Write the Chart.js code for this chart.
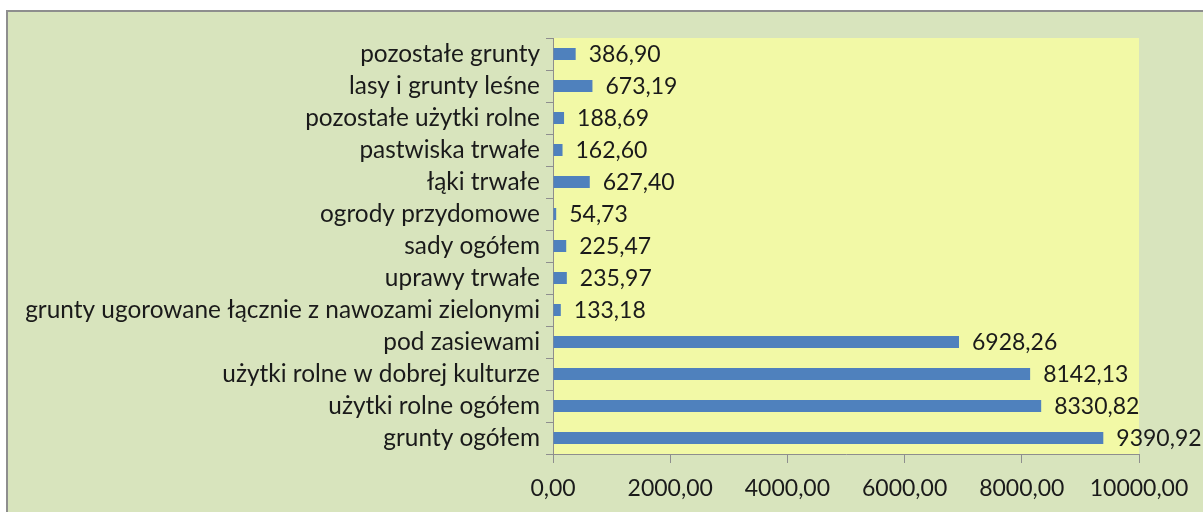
<!DOCTYPE html>
<html>
<head>
<meta charset="utf-8">
<script src="https://cdn.jsdelivr.net/npm/chart.js@4/dist/chart.umd.min.js"></script>
<style>
  html, body { margin: 0; padding: 0; background: #ffffff; width: 1203px; height: 512px; overflow: hidden; }
  #box { position: absolute; left: 6px; top: 10px; width: 1200px; height: 510px; background: #d8e4bd; border: 2px solid #8e8e8e; }
  #c { position: absolute; left: 0; top: 0; }
</style>
</head>
<body>
<div id="box"></div>
<canvas id="c" width="1203" height="512"></canvas>
<script>
const categories = [
  "pozostałe grunty",
  "lasy i grunty leśne",
  "pozostałe użytki rolne",
  "pastwiska trwałe",
  "łąki trwałe",
  "ogrody przydomowe",
  "sady ogółem",
  "uprawy trwałe",
  "grunty ugorowane łącznie z nawozami zielonymi",
  "pod zasiewami",
  "użytki rolne w dobrej kulturze",
  "użytki rolne ogółem",
  "grunty ogółem"
];
const values = [386.90, 673.19, 188.69, 162.60, 627.40, 54.73, 225.47, 235.97, 133.18, 6928.26, 8142.13, 8330.82, 9390.92];
const xTicks = [0, 2000, 4000, 6000, 8000, 10000];

const FONT = "Lato";
const LSIZE = 24.4;
const NSIZE = 23;
const fmt = v => v.toFixed(2).replace('.', ',');

const plotBg = {
  id: 'plotBg',
  beforeDraw(chart) {
    const a = chart.chartArea, ctx = chart.ctx;
    ctx.save();
    ctx.fillStyle = '#f2f9a6';
    ctx.fillRect(a.left, a.top, a.right - a.left, a.bottom - a.top);
    ctx.restore();
  }
};
const valueLabels = {
  id: 'valueLabels',
  afterDatasetsDraw(chart) {
    const ctx = chart.ctx;
    const meta = chart.getDatasetMeta(0);
    ctx.save();
    ctx.font = NSIZE + 'px ' + FONT;
    ctx.fillStyle = '#1a1a1a';
    ctx.textAlign = 'left';
    ctx.textBaseline = 'middle';
    meta.data.forEach((bar, i) => {
      ctx.fillText(fmt(values[i]), bar.x + 13, bar.y + 1);
    });
    ctx.restore();
  }
};

new Chart(document.getElementById('c'), {
  type: 'bar',
  data: {
    labels: categories,
    datasets: [{
      data: values,
      backgroundColor: '#4f81bd',
      borderWidth: 0,
      barPercentage: 0.375,
      categoryPercentage: 1.0
    }]
  },
  options: {
    indexAxis: 'y',
    responsive: false,
    animation: false,
    devicePixelRatio: 1,
    layout: { padding: { top: 38, right: 64, left: 0, bottom: 0 } },
    plugins: { legend: { display: false }, tooltip: { enabled: false }, title: { display: false } },
    scales: {
      y: {
        type: 'category',
        afterFit(s) { s.width = 553; },
        grid: { display: true, drawOnChartArea: false, drawTicks: true, tickLength: 7, color: '#8e8e8e', offset: true },
        border: { display: true, color: '#8e8e8e', width: 1 },
        ticks: { color: '#1a1a1a', font: { family: FONT, size: LSIZE }, padding: 6, autoSkip: false }
      },
      x: {
        type: 'linear',
        min: 0, max: 10000,
        afterFit(s) { s.height = 58; },
        afterBuildTicks(s) { s.ticks = xTicks.map(v => ({ value: v })); },
        grid: { display: true, drawOnChartArea: false, drawTicks: true, tickLength: 9, color: '#8e8e8e' },
        border: { display: true, color: '#8e8e8e', width: 1 },
        ticks: { color: '#1a1a1a', font: { family: FONT, size: NSIZE }, padding: 12, maxRotation: 0, callback: v => fmt(v) }
      }
    }
  },
  plugins: [plotBg, valueLabels]
});
</script>
</body>
</html>
